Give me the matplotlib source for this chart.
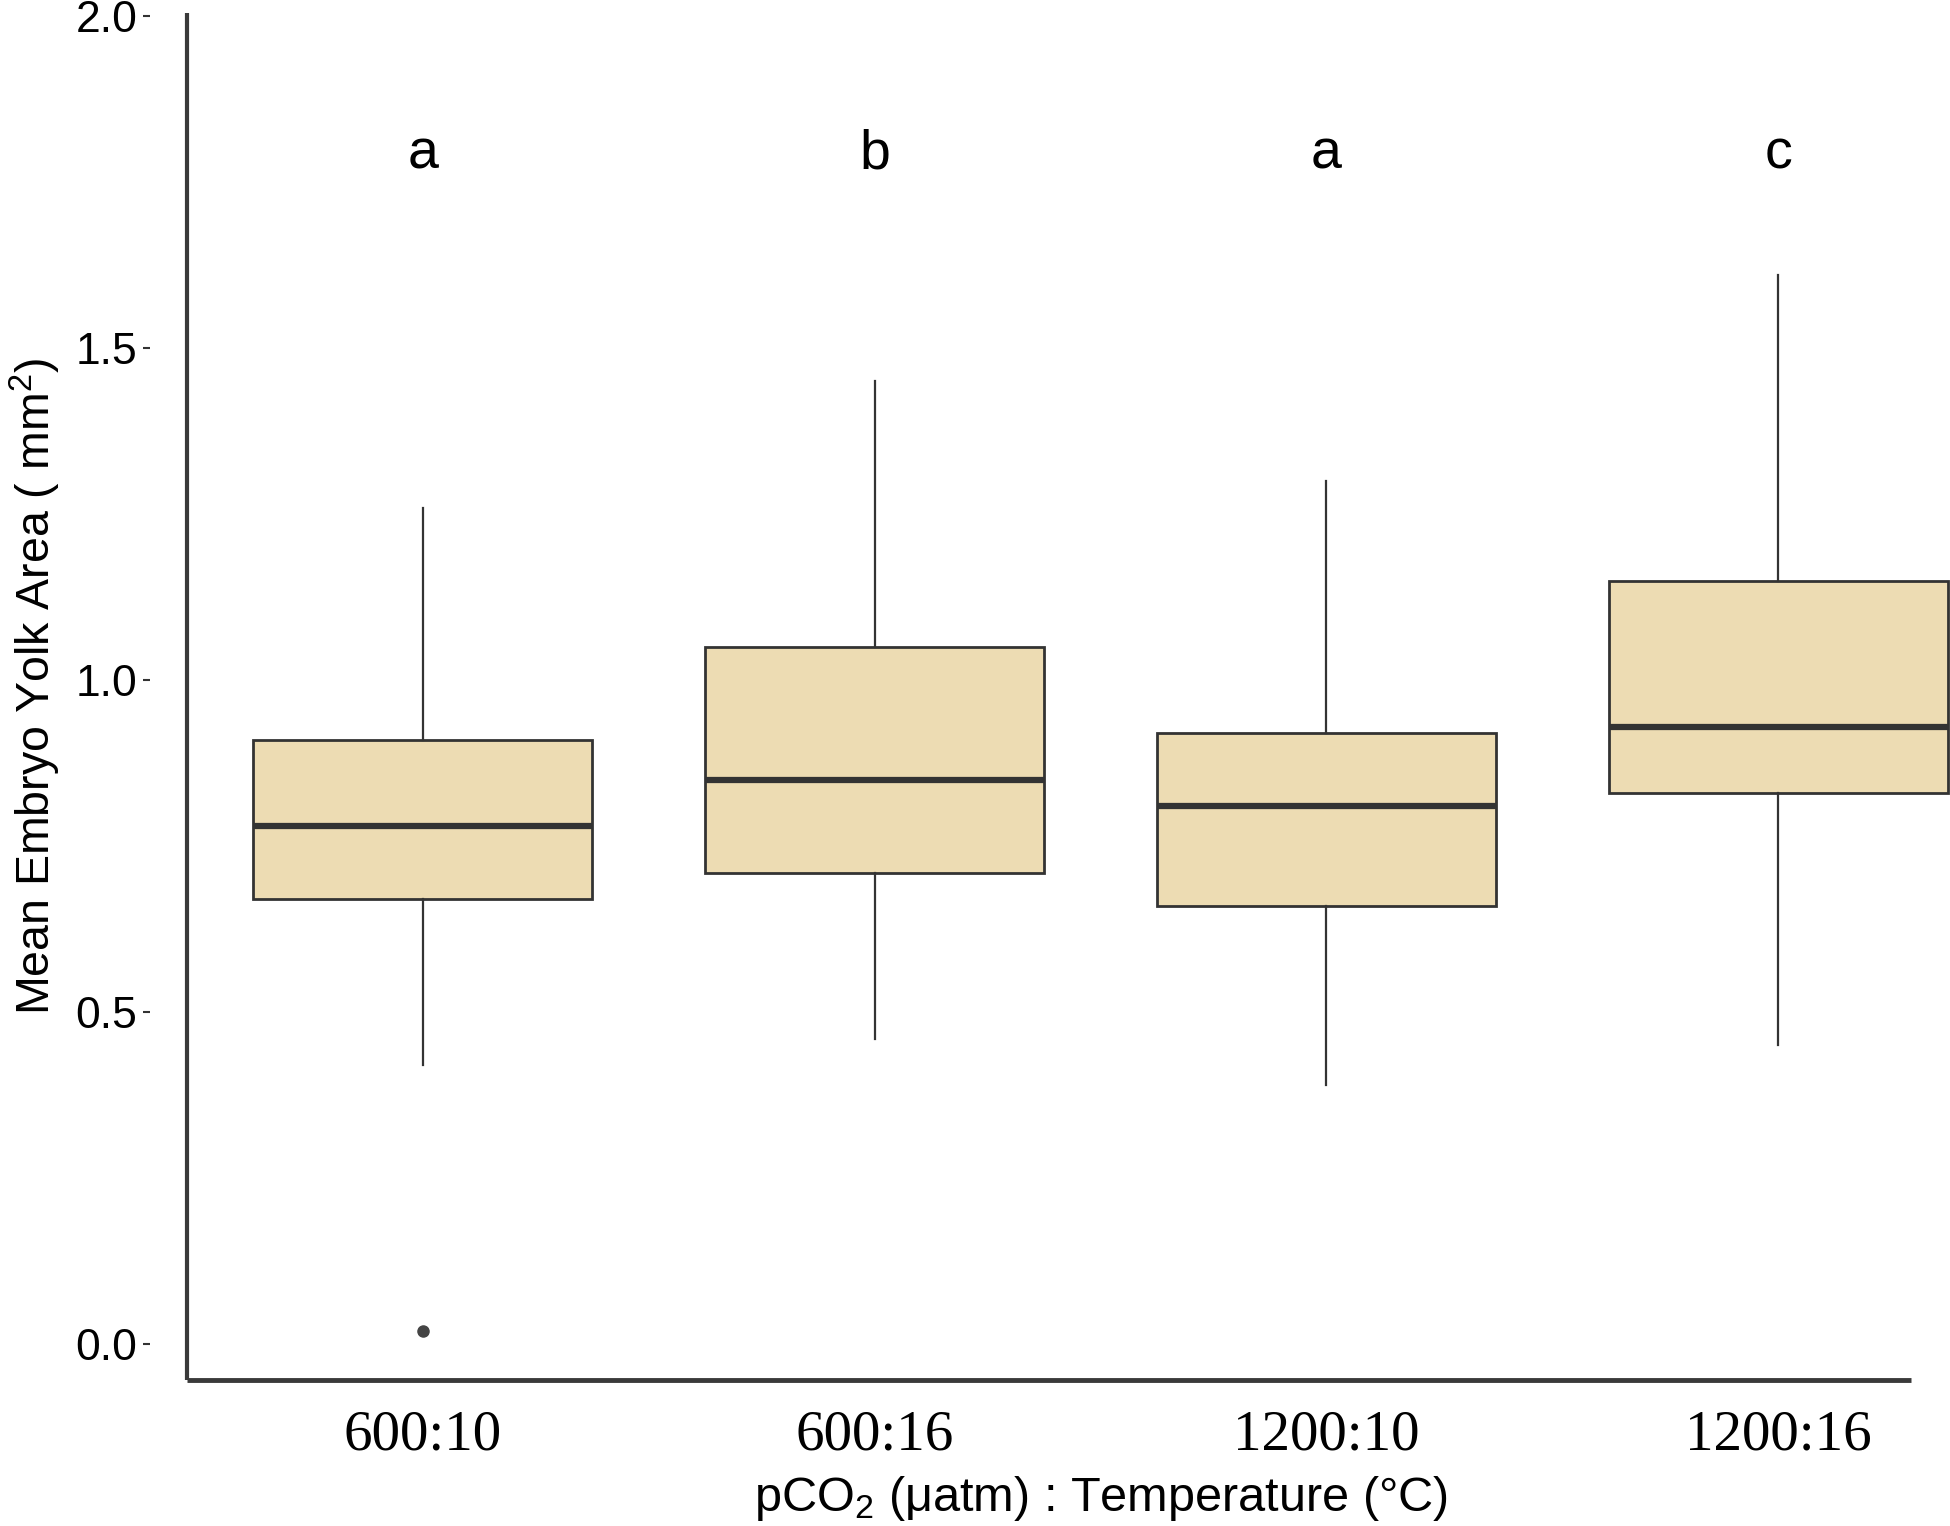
import matplotlib
matplotlib.use("Agg")
import matplotlib.pyplot as plt
import matplotlib.transforms as mtransforms

# treatment groups and box summary values (mm^2)
groups = ["600:10", "600:16", "1200:10", "1200:16"]
whisker_low = [0.42, 0.46, 0.39, 0.45]
q1 = [0.67, 0.71, 0.66, 0.83]
medians = [0.78, 0.85, 0.81, 0.93]
q3 = [0.91, 1.05, 0.92, 1.15]
whisker_high = [1.26, 1.45, 1.30, 1.61]
outliers = [[0.02], [], [], []]
letters = ["a", "b", "a", "c"]

plt.rcParams["font.family"] = ["Liberation Sans", "DejaVu Sans"]
plt.rcParams["mathtext.fontset"] = "custom"
plt.rcParams["mathtext.rm"] = "Liberation Sans"
plt.rcParams["mathtext.it"] = "Liberation Sans:italic"

fig = plt.figure(figsize=(19.5, 15.26), dpi=100)
ax = fig.add_axes([0.0959, 0.0957, 1 - 0.0959, 0.9915 - 0.0957])

stats = []
for i in range(len(groups)):
    stats.append({
        "whislo": whisker_low[i], "q1": q1[i], "med": medians[i],
        "q3": q3[i], "whishi": whisker_high[i], "fliers": outliers[i],
    })

pos = list(range(1, len(groups) + 1))
ax.bxp(stats, positions=pos, widths=0.75, patch_artist=True, showcaps=False,
       boxprops=dict(facecolor="#EDDCB3", edgecolor="#333333", linewidth=2.0),
       medianprops=dict(color="#333333", linewidth=4.5),
       whiskerprops=dict(color="#333333", linewidth=1.6),
       flierprops=dict(marker="o", markerfacecolor="#444444", markeredgecolor="#444444",
                       markersize=8))

for i, lab in enumerate(letters):
    ax.text(pos[i], 1.77, lab, ha="center", va="baseline", fontsize=40)

ax.set_xlim(0.478, 4.38)
ax.set_ylim(-0.054, 2.005)
ax.set_yticks([0.0, 0.5, 1.0, 1.5, 2.0])
ax.set_yticklabels(["0.0", "0.5", "1.0", "1.5", "2.0"])
ax.set_xticks(pos)
ax.set_xticklabels(groups, family=["Liberation Serif", "DejaVu Serif"], fontsize=41)

for s in ["top", "right", "left", "bottom"]:
    ax.spines[s].set_visible(False)
# y ticks float to the left of the axis line
ax.spines["left"].set_position(("outward", 26.6))
ax.tick_params(axis="y", direction="out", length=5, width=1.5, color="#333333",
               pad=4, labelsize=32)
ax.tick_params(axis="x", length=0, pad=21)

# axis lines
ax.plot([0.478, 0.478], [-0.054, 2.005], color="#3a3a3a", lw=3, clip_on=False,
        solid_capstyle="butt")
ax.plot([0.478, 4.294], [-0.054, -0.054], color="#3a3a3a", lw=3.5, clip_on=False,
        solid_capstyle="butt")

ax.set_ylabel("Mean Embryo Yolk Area ( mm$^{\\mathrm{2}}$)", fontsize=33.5)
ax.yaxis.set_label_coords(-0.0705, 0.507)

blend = mtransforms.blended_transform_factory(ax.transData, ax.transAxes)
ax.set_xlabel("pCO$_{\\mathrm{2}}$ (\u03bcatm) : Temperature (\u00b0C)", fontsize=35)
ax.xaxis.set_label_coords(2.5, -0.087, transform=blend)
ax.xaxis.label.set_va("center")

fig.savefig("out.png", dpi=100)
